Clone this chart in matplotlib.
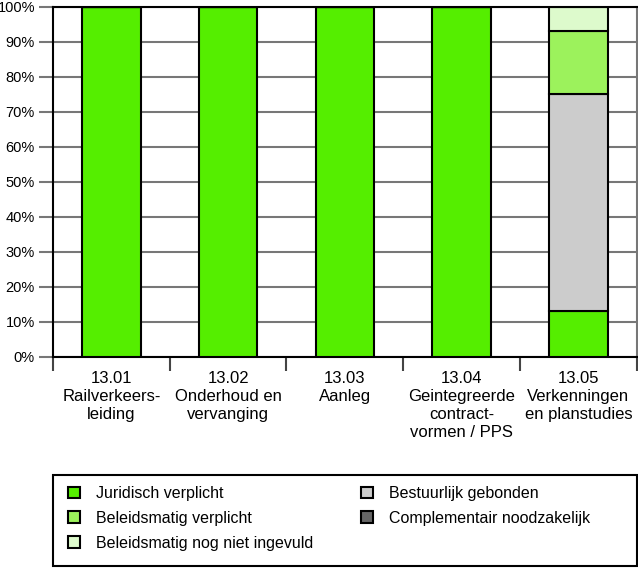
import numpy as np
import matplotlib.pyplot as plt
from matplotlib.patches import Patch, Rectangle

plt.rcParams['font.family'] = ['Liberation Sans', 'DejaVu Sans']

categories = ["13.01\nRailverkeers-\nleiding", "13.02\nOnderhoud en\nvervanging",
              "13.03\nAanleg", "13.04\nGeintegreerde\ncontract-\nvormen / PPS",
              "13.05\nVerkenningen\nen planstudies"]

series = ["Juridisch verplicht", "Beleidsmatig verplicht", "Beleidsmatig nog niet ingevuld",
          "Bestuurlijk gebonden", "Complementair noodzakelijk"]
colors = ["#55ee00", "#9cf25c", "#ddfacc", "#cccccc", "#666666"]

juridisch = [100, 100, 100, 100, 13]
bestuurlijk = [0, 0, 0, 0, 62]
beleid_verplicht = [0, 0, 0, 0, 18]
beleid_open = [0, 0, 0, 0, 7]
complementair = [0, 0, 0, 0, 0]

# stacking order bottom -> top
stack = [(juridisch, 0), (bestuurlijk, 3), (beleid_verplicht, 1), (beleid_open, 2), (complementair, 4)]

fig = plt.figure(figsize=(6.38, 5.68), dpi=100)
ax = fig.add_axes([0.083, 0.3715, 0.915, 0.6162])

x = np.arange(len(categories))
bottom = np.zeros(len(categories))
for vals, ci in stack:
    vals = np.array(vals, dtype=float)
    ax.bar(x, vals, width=0.5, bottom=bottom, color=colors[ci], edgecolor="black",
           linewidth=1.5, zorder=3)
    bottom += vals

ax.set_xlim(-0.5, len(categories) - 0.5)
ax.set_ylim(0, 100)
ax.set_yticks(np.arange(0, 101, 10))
ax.set_yticklabels([f"{v}%" for v in range(0, 101, 10)], fontsize=10.5)
ax.yaxis.grid(True, color="#777777", linewidth=1.5, zorder=0)
ax.tick_params(axis="y", length=10, width=1.5, color="#777777", pad=3)

ax.set_xticks(x)
ax.set_xticklabels(categories, fontsize=12, linespacing=1.25)
ax.tick_params(axis="x", which="major", length=0, pad=10)
ax.set_xticks(np.arange(-0.5, len(categories)), minor=True)
ax.tick_params(axis="x", which="minor", length=10, width=1.5, color="#444444")

for s in ["left", "top", "bottom"]:
    ax.spines[s].set_linewidth(1.5)
    ax.spines[s].set_color("black")
ax.spines["right"].set_color("#777777")
ax.spines["right"].set_linewidth(1.5)

# legend frame drawn separately so the columns can sit closer together
fig.patches.append(Rectangle((53 / 638, 2 / 568), 584 / 638, 91 / 568,
                             transform=fig.transFigure, fill=False,
                             edgecolor="black", linewidth=1.5))

handles = [Patch(facecolor=c, edgecolor="black", linewidth=1.5) for c in colors]
leg = fig.legend(handles, series, loc="upper left", ncol=2,
                 bbox_to_anchor=(68 / 638, 1 - 486 / 568), fontsize=11.5,
                 frameon=False, handlelength=0.75, handleheight=0.75,
                 handletextpad=1.0, labelspacing=0.62, columnspacing=3.0,
                 borderpad=0, borderaxespad=0)

fig.savefig("out.png", dpi=100)
